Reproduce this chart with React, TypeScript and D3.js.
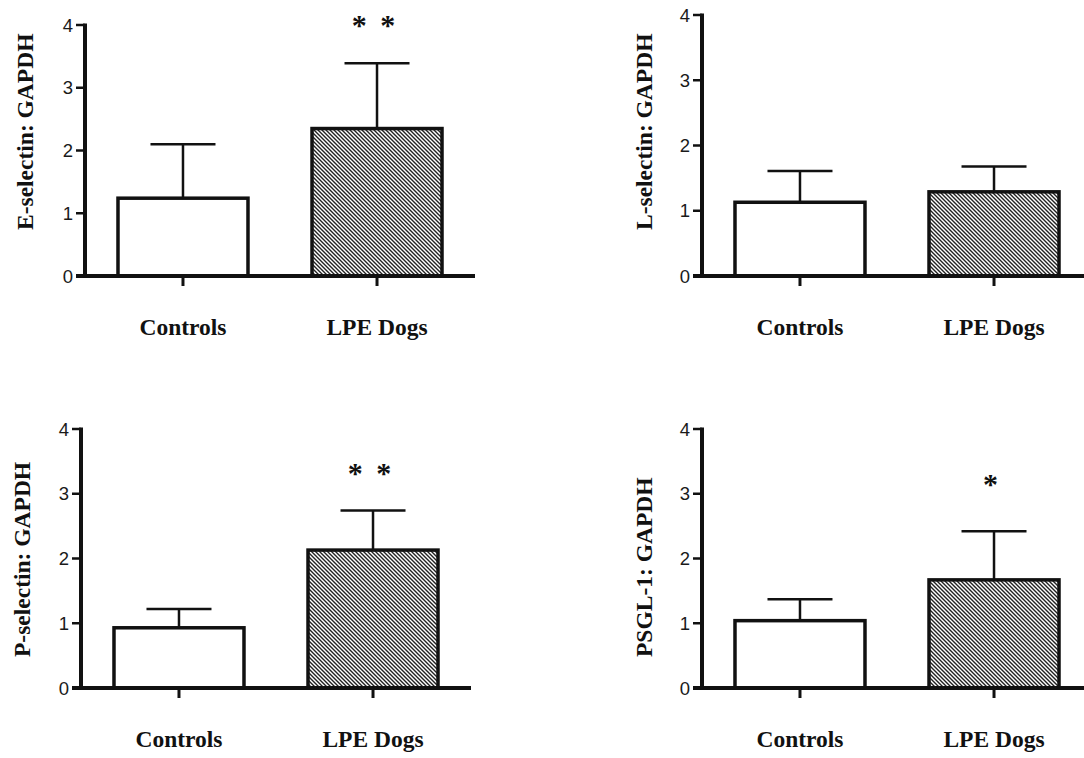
import React from "react";
import * as d3 from "d3";

const categories = ["Controls", "LPE Dogs"];
const yTicks = [0, 1, 2, 3, 4];
const yLabels = ["E-selectin: GAPDH", "L-selectin: GAPDH", "P-selectin: GAPDH", "PSGL-1: GAPDH"];
const means = [
  [1.24, 2.35],
  [1.13, 1.29],
  [0.93, 2.13],
  [1.04, 1.67],
];
const errors = [
  [0.86, 1.04],
  [0.48, 0.39],
  [0.29, 0.61],
  [0.33, 0.75],
];
const stars = ["* *", "", "* *", "*"];
const starLevels = [4.08, 0, 3.39, 3.23];

// panel frames in page pixels
const frames = [
  { ax: 85, yTop: 25, y0: 276, labelX: 33, labelY: 230 },
  { ax: 702, yTop: 15, y0: 276, labelX: 652, labelY: 230 },
  { ax: 81, yTop: 429, y0: 688, labelX: 30, labelY: 657 },
  { ax: 702, yTop: 429, y0: 688, labelX: 652, labelY: 657 },
];

const serif = "'Liberation Serif', 'Times New Roman', serif";
const sans = "'Liberation Sans', Arial, sans-serif";

function Panel({ i }: { i: number }) {
  const f = frames[i];
  const x = d3
    .scaleBand()
    .domain(categories)
    .range([f.ax, f.ax + 390])
    .paddingInner(0.33)
    .paddingOuter(0.17);
  const y = d3.scaleLinear().domain([0, 4]).range([f.y0, f.yTop]);
  const bw = x.bandwidth();

  return (
    <g>
      {/* bars */}
      {categories.map((c, j) => {
        const top = y(means[i][j]);
        const cx = x(c)! + bw / 2;
        const et = y(means[i][j] + errors[i][j]);
        return (
          <g key={c}>
            <line x1={cx} x2={cx} y1={top} y2={et} stroke="#111" strokeWidth={2.5} />
            <line x1={cx - bw / 4} x2={cx + bw / 4} y1={et} y2={et} stroke="#111" strokeWidth={2.5} />
            <rect
              x={x(c)}
              y={top}
              width={bw}
              height={f.y0 - top}
              fill={j === 1 ? "url(#hatch)" : "#fff"}
              stroke="#111"
              strokeWidth={3.5}
            />
            <line x1={cx} x2={cx} y1={f.y0} y2={f.y0 + 10} stroke="#111" strokeWidth={3} />
            <text
              x={cx}
              y={f.y0 + 59}
              textAnchor="middle"
              fontFamily={serif}
              fontWeight="bold"
              fontSize={23.5}
              fill="#111"
            >
              {c}
            </text>
          </g>
        );
      })}

      {/* axes */}
      <line x1={f.ax} x2={f.ax} y1={f.yTop - 1.5} y2={f.y0} stroke="#111" strokeWidth={4} />
      <line x1={f.ax - 9} x2={f.ax + 390} y1={f.y0} y2={f.y0} stroke="#111" strokeWidth={4} />
      {yTicks.map((t) => (
        <g key={t}>
          <line x1={f.ax - 9} x2={f.ax} y1={y(t)} y2={y(t)} stroke="#111" strokeWidth={2.5} />
          <text
            x={f.ax - 12}
            y={y(t)}
            dy="0.36em"
            textAnchor="end"
            fontFamily={sans}
            fontSize={18.5}
            fill="#1a1a1a"
          >
            {t}
          </text>
        </g>
      ))}

      {/* y label */}
      <text
        transform={`translate(${f.labelX},${f.labelY}) rotate(-90)`}
        textAnchor="start"
        fontFamily={serif}
        fontWeight="bold"
        fontSize={23.5}
        fill="#111"
      >
        {yLabels[i]}
      </text>

      {/* significance */}
      {stars[i] && (
        <text
          x={x(categories[1])! + bw / 2 - 2}
          y={y(starLevels[i]) + 15}
          textAnchor="middle"
          fontFamily={serif}
          fontWeight="bold"
          fontSize={30}
          letterSpacing={3}
          fill="#111"
        >
          {stars[i]}
        </text>
      )}
    </g>
  );
}

export default function App() {
  return (
    <svg
      width={1084}
      height={758}
      style={{ position: "absolute", left: 0, top: 0, background: "#fff" }}
    >
      <defs>
        <pattern id="hatch" patternUnits="userSpaceOnUse" width={4} height={4}>
          <rect width={4} height={4} fill="#fff" />
          <path d="M0,0 L4,4 M-1,3 L1,5 M3,-1 L5,1" stroke="#222" strokeWidth={1.4} />
        </pattern>
      </defs>
      {frames.map((_, i) => (
        <Panel key={i} i={i} />
      ))}
    </svg>
  );
}
